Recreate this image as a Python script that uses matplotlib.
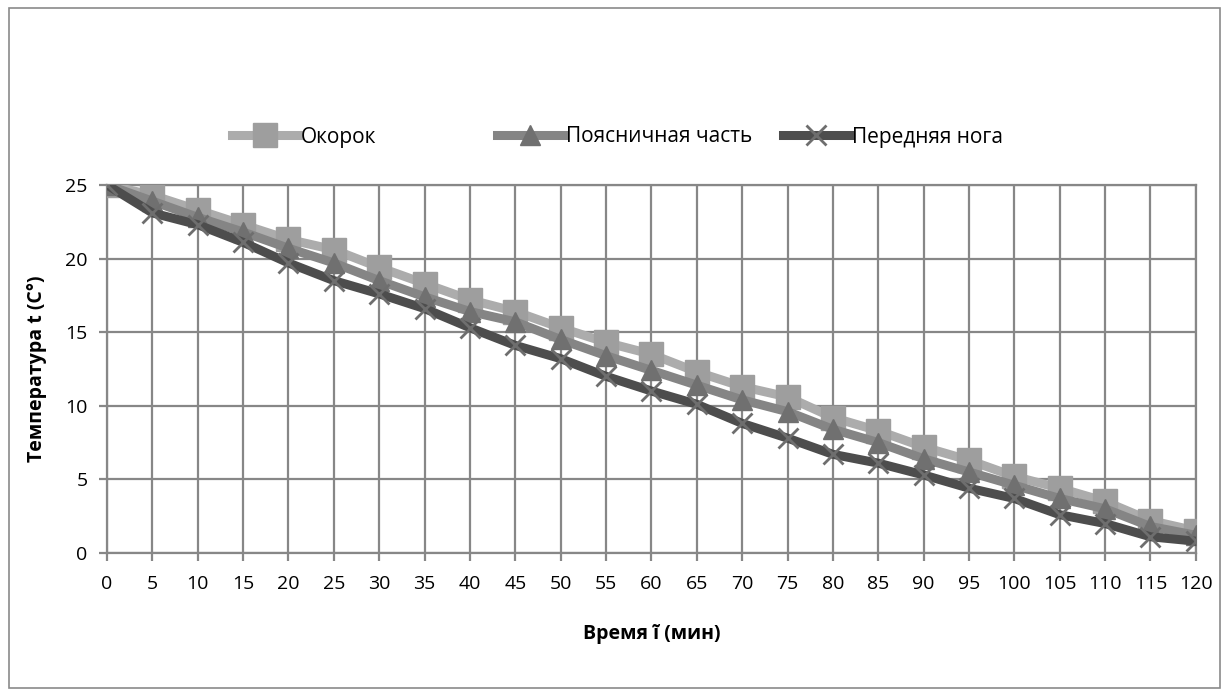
import matplotlib
matplotlib.use("Agg")
import matplotlib.pyplot as plt
from matplotlib.patches import Rectangle

plt.rcParams['font.family'] = ['Open Sans', 'DejaVu Sans']

minutes = list(range(0, 125, 5))
okorok = [25, 24.3, 23.3, 22.3, 21.3, 20.6, 19.4, 18.3, 17.2, 16.4, 15.3, 14.3, 13.5,
          12.3, 11.3, 10.6, 9.2, 8.3, 7.2, 6.3, 5.2, 4.4, 3.5, 2.2, 1.5]
poyasnichnaya = [25, 23.9, 22.8, 21.8, 20.7, 19.7, 18.5, 17.4, 16.4, 15.7, 14.5, 13.4, 12.4,
                 11.4, 10.4, 9.6, 8.4, 7.5, 6.4, 5.5, 4.6, 3.7, 3.0, 1.8, 1.2]
perednyaya = [25, 23.1, 22.3, 21.1, 19.7, 18.5, 17.6, 16.6, 15.3, 14.1, 13.2, 12.0, 11.0,
              10.1, 8.8, 7.8, 6.7, 6.1, 5.3, 4.4, 3.7, 2.6, 2.0, 1.1, 0.8]

fig = plt.figure(figsize=(12.24, 6.9), dpi=100)
ax = fig.add_axes([0.0874, 0.1986, 0.8896, 0.5334])

# chart border
fig.patches.append(Rectangle((0.007, 0.003), 0.99, 0.985, transform=fig.transFigure,
                             fill=False, edgecolor='#8a8a8a', lw=1.2))

l1, = ax.plot(minutes, okorok, color='#acacac', lw=6.5, marker='s', ms=17,
              mfc='#9e9e9e', mec='#9e9e9e', label='Окорок', zorder=3)
l2, = ax.plot(minutes, poyasnichnaya, color='#858585', lw=6.5, marker='^', ms=15,
              mfc='#707070', mec='#707070', label='Поясничная часть', zorder=4)
l3, = ax.plot(minutes, perednyaya, color='#4d4d4d', lw=6.5, marker='x', ms=15, mew=2,
              mec='#6e6e6e', label='Передняя нога', zorder=5)

ax.set_xlim(0, 120)
ax.set_ylim(0, 25)
ax.set_xticks(minutes)
ax.set_yticks(range(0, 30, 5))
ax.grid(True, color='#878787', lw=1.6)
ax.set_axisbelow(True)
for s in ax.spines.values():
    s.set_color('#878787')
    s.set_linewidth(1.6)
ax.tick_params(axis='both', labelsize=14, color='#878787', width=1.6, length=6)
ax.tick_params(axis='x', pad=10)
ax.tick_params(axis='y', pad=8)

ax.set_xlabel('Время ĩ (мин)', fontsize=14, fontweight='bold', labelpad=22)
ax.set_ylabel('Температура t (C°)', fontsize=14, fontweight='bold', labelpad=13)

# legend entries placed like the Excel legend
for h, x0 in [(l1, 232), (l2, 497), (l3, 783)]:
    fig.legend(handles=[h], loc='center left', bbox_to_anchor=(x0 / 1224, 1 - 137 / 690),
               frameon=False, fontsize=15, handlelength=3.2, handletextpad=0.1,
               borderpad=0, borderaxespad=0)

fig.savefig('out.png', dpi=100)
